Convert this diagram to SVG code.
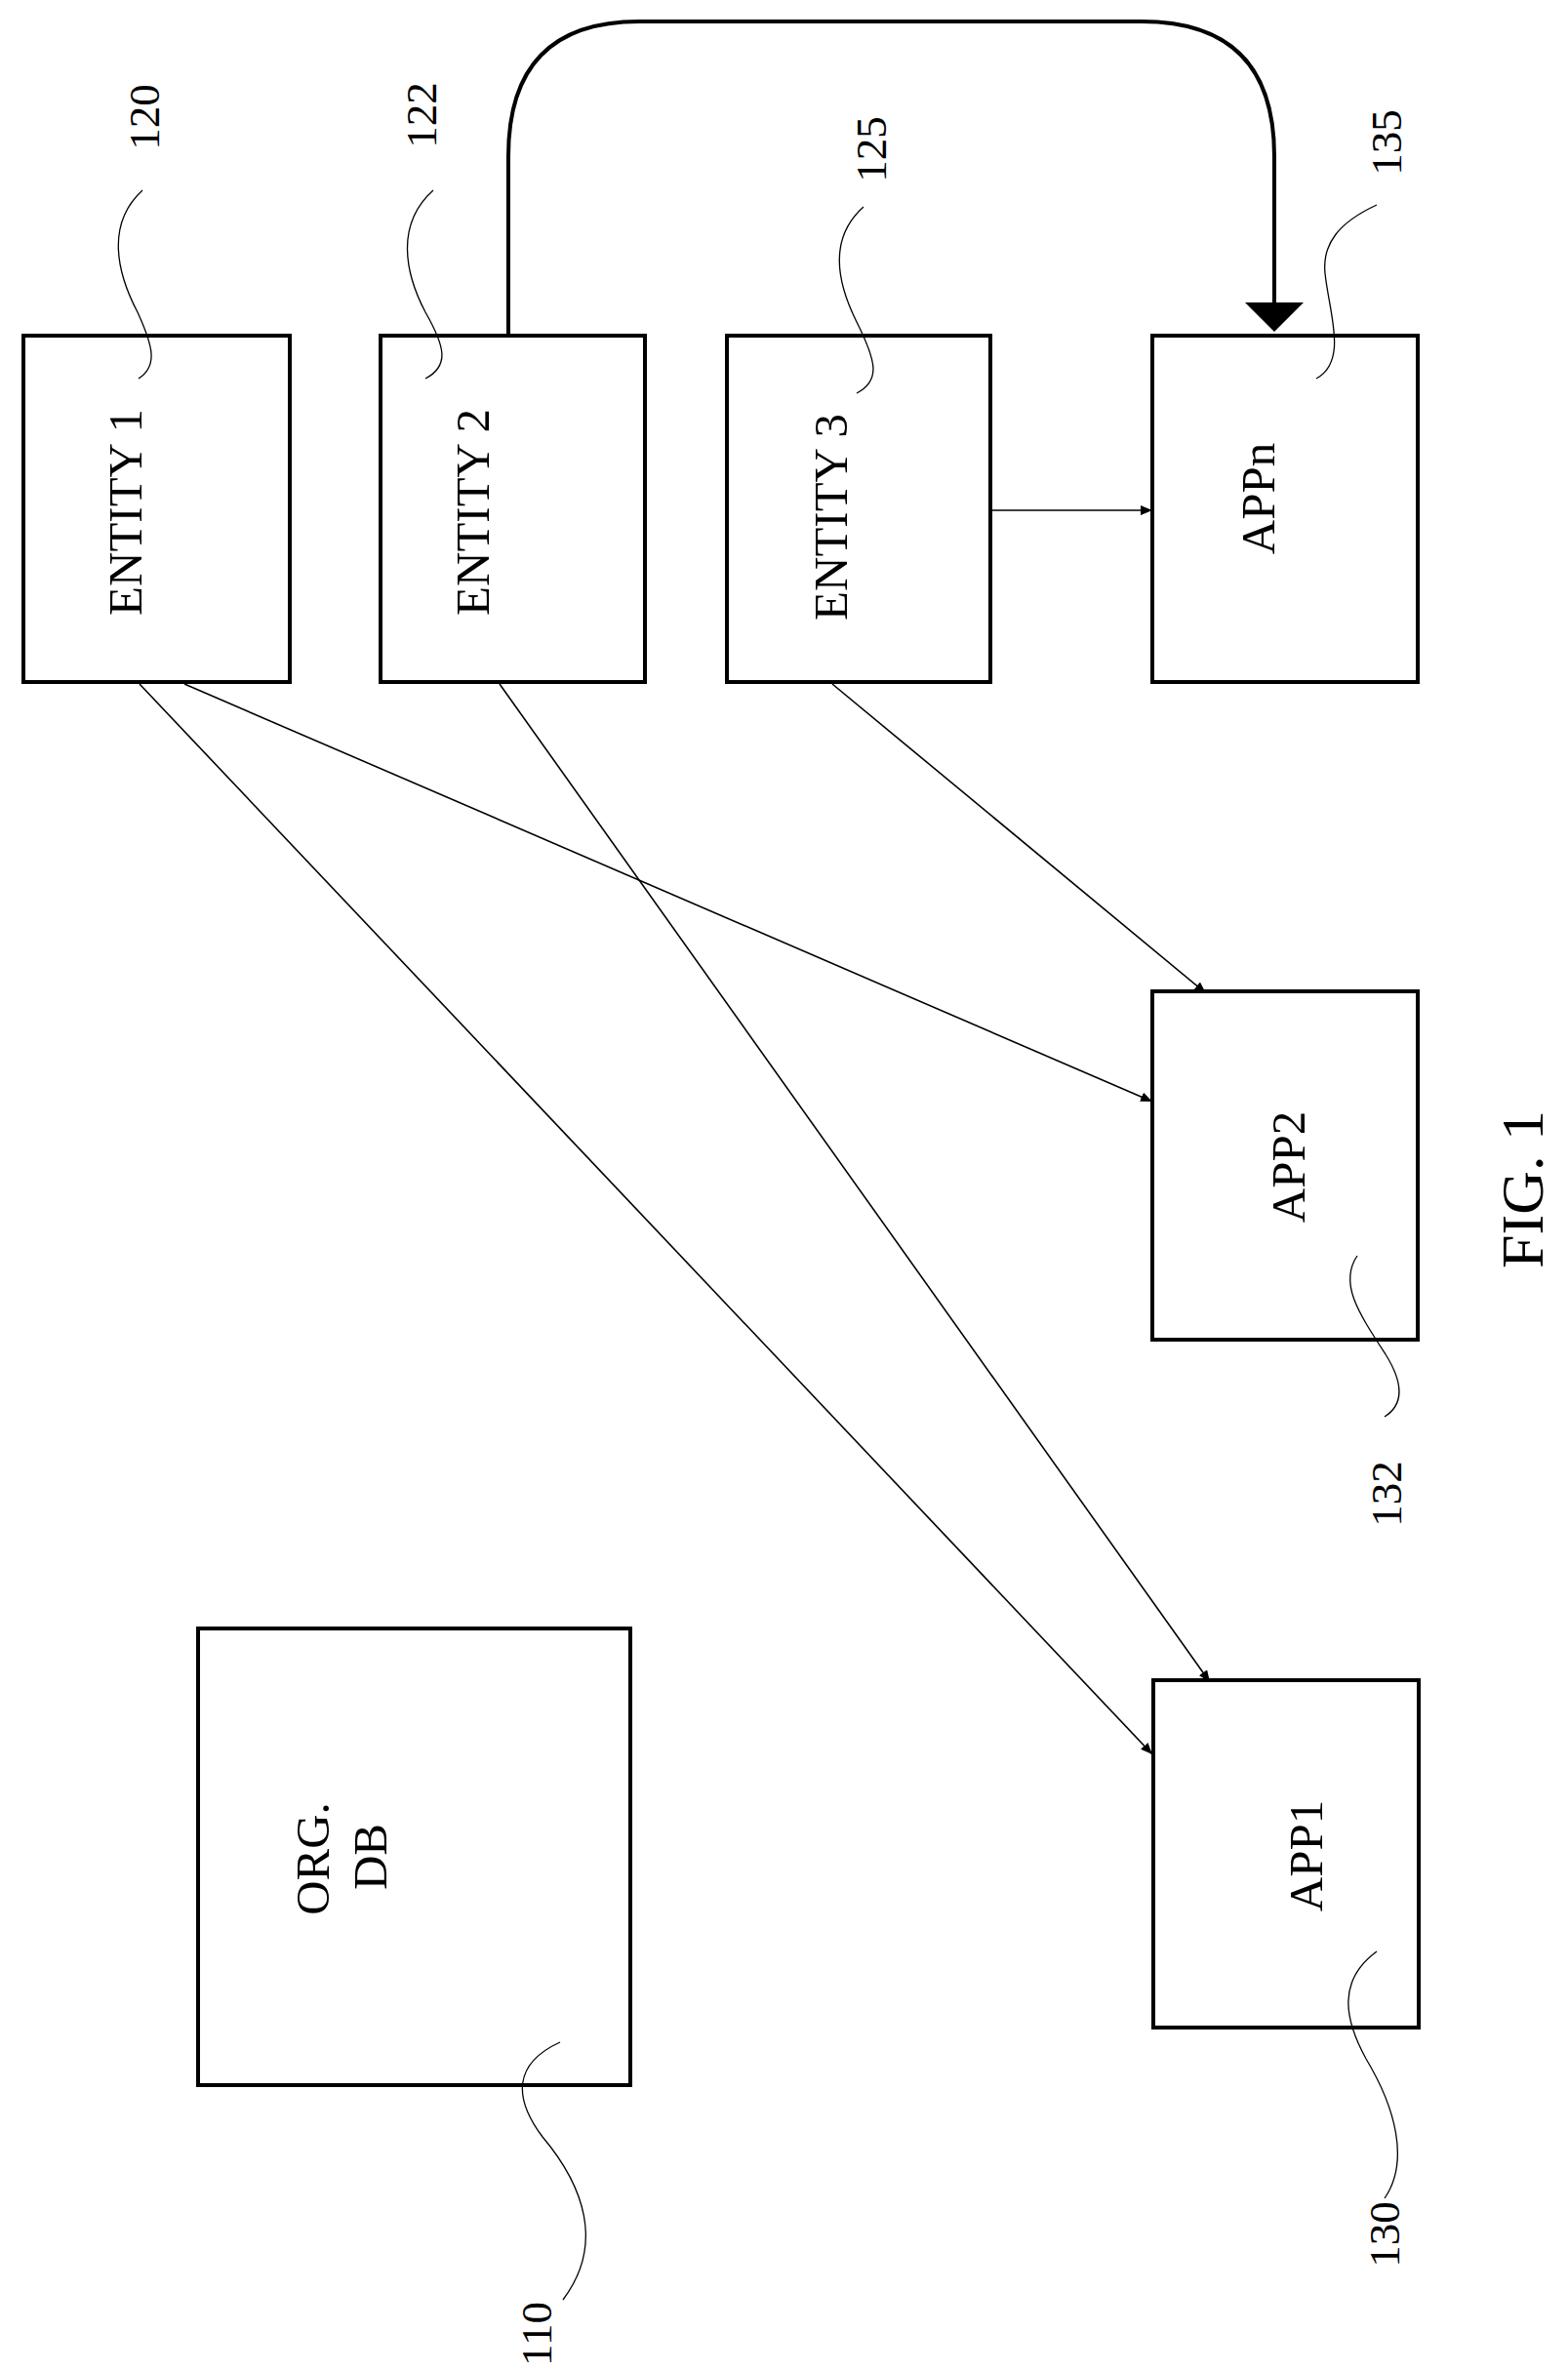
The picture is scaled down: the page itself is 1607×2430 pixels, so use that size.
<svg xmlns="http://www.w3.org/2000/svg" width="1607" height="2430" viewBox="0 0 1607 2430">
<style>
rect{fill:#fff;stroke:#000;stroke-width:4}
.c{fill:none;stroke:#000;stroke-width:1.6}
.l{fill:none;stroke:#000;stroke-width:1.3}
text{font-family:"Liberation Serif",serif;fill:#000;text-anchor:middle;dominant-baseline:central}
.t{font-size:49px}
.n{font-size:45px}
</style>
<defs>
<marker id="a" markerWidth="12" markerHeight="10" refX="12" refY="5" orient="auto" markerUnits="userSpaceOnUse" viewBox="0 0 12 10"><path d="M0,0 L12,5 L0,10 z"/></marker>
</defs>
<g id="connectors">
<path class="c" style="stroke-width:4" d="M521,344 V160 Q521,22 655,22 H1170 Q1306,22 1306,160 V310"/>
<path d="M1276,310 L1336,310 L1306,340 z"/>
<path class="c" d="M1014,523 H1181" marker-end="url(#a)"/>
<path class="c" d="M143,701 L1181,1798" marker-end="url(#a)"/>
<path class="c" d="M189,701 L1181,1129" marker-end="url(#a)"/>
<path class="c" d="M512,701 L1240,1724" marker-end="url(#a)"/>
<path class="c" d="M853,701 L1236,1018" marker-end="url(#a)"/>
</g>
<g id="entity1"><rect x="24" y="344" width="273" height="355"/><text class="t" transform="translate(128,525) rotate(-90)">ENTITY 1</text></g>
<g id="entity2"><rect x="390" y="344" width="271" height="355"/><text class="t" transform="translate(484,525) rotate(-90)">ENTITY 2</text></g>
<g id="entity3"><rect x="745" y="344" width="270" height="355"/><text class="t" transform="translate(851,530) rotate(-90)">ENTITY 3</text></g>
<g id="appn"><rect x="1181" y="344" width="272" height="355"/><text class="t" transform="translate(1289,511) rotate(-90)">APPn</text></g>
<g id="app2"><rect x="1181" y="1016" width="272" height="357"/><text class="t" transform="translate(1320,1196) rotate(-90)">APP2</text></g>
<g id="app1"><rect x="1182" y="1722" width="272" height="356"/><text class="t" transform="translate(1338,1902) rotate(-90)">APP1</text></g>
<g id="orgdb"><rect x="203" y="1669" width="443" height="468"/><text class="t" transform="translate(320,1905) rotate(-90)">ORG.</text><text class="t" transform="translate(379,1903) rotate(-90)">DB</text></g>
<g id="labels">
<text class="n" transform="translate(148,120) rotate(-90)">120</text>
<path class="l" d="M146,195 C108,230 120,280 141,320 C157,355 162,375 142,388"/>
<text class="n" transform="translate(432,118) rotate(-90)">122</text>
<path class="l" d="M444,195 C405,230 415,280 436,320 C456,355 461,375 436,388"/>
<text class="n" transform="translate(893,153) rotate(-90)">125</text>
<path class="l" d="M885,212 C848,245 858,290 878,330 C898,370 903,390 878,403"/>
<text class="n" transform="translate(1421,146) rotate(-90)">135</text>
<path class="l" d="M1411,210 C1372,228 1355,250 1358,280 C1362,320 1382,370 1349,388"/>
<text class="n" transform="translate(1421,1531) rotate(-90)">132</text>
<path class="l" d="M1391,1287 C1372,1315 1392,1345 1420,1388 C1440,1420 1438,1440 1419,1452"/>
<text class="n" transform="translate(1419,2290) rotate(-90)">130</text>
<path class="l" d="M1411,2000 C1370,2030 1378,2070 1400,2110 C1430,2160 1445,2215 1419,2253"/>
<text class="n" transform="translate(550,2392) rotate(-90)">110</text>
<path class="l" d="M574,2093 C526,2115 526,2150 556,2190 C598,2240 620,2300 577,2357"/>
<text transform="translate(1560,1219) rotate(-90)" style="font-size:62px">FIG. 1</text>
</g>
</svg>
